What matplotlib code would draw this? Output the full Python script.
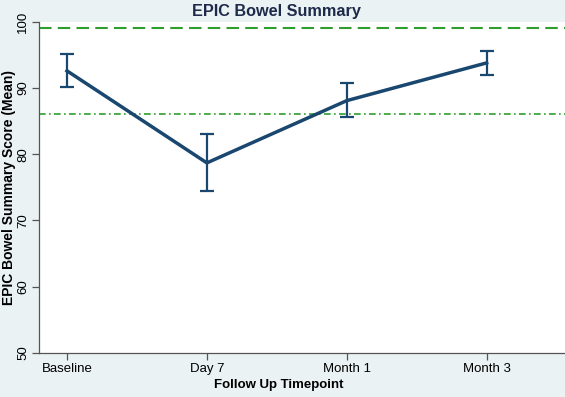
import matplotlib
matplotlib.use("Agg")
import matplotlib.pyplot as plt

timepoints = ["Baseline", "Day 7", "Month 1", "Month 3"]
means = [92.6, 78.7, 88.1, 93.8]
lower = [90.1, 74.4, 85.6, 92.0]
upper = [95.2, 83.0, 90.8, 95.6]
ref_dashed = 99.1
ref_dashdot = 86.1
yticks = [50, 60, 70, 80, 90, 100]

plt.rcParams['font.family'] = ['Liberation Sans', 'DejaVu Sans']

bg = '#eaf2f3'
navy = '#1a476f'
green = '#2e9e2e'

fig = plt.figure(figsize=(5.65, 3.97), dpi=100, facecolor=bg)
ax = fig.add_axes([0.069, 0.111, 0.931, 0.834])
ax.set_facecolor('white')

x = list(range(len(timepoints)))
ax.axhline(ref_dashed, color=green, lw=1.5, ls=(0, (6, 3)), zorder=1)
ax.axhline(ref_dashdot, color=green, lw=1.2, ls=(0, (4, 2, 1, 2)), zorder=1)

yerr = [[m - l for m, l in zip(means, lower)], [u - m for m, u in zip(means, upper)]]
ax.errorbar(x, means, yerr=yerr, color=navy, lw=2.5, elinewidth=1.6,
            capsize=5, capthick=1.6, zorder=3)

ax.set_xlim(-0.2, 3.56)
ax.set_ylim(50, 100)
ax.set_xticks(x)
ax.set_xticklabels(timepoints, fontsize=9.5)
ax.set_yticks(yticks)
ax.set_yticklabels([str(v) for v in yticks], fontsize=9.5, rotation=90, va='center')

for s in ['top', 'right']:
    ax.spines[s].set_visible(False)
for s in ['left', 'bottom']:
    ax.spines[s].set_color('#555555')
    ax.spines[s].set_linewidth(0.9)
ax.tick_params(axis='both', direction='out', length=5, color='#555555', width=0.9, pad=2)

ax.set_xlabel("Follow Up Timepoint", fontsize=9.5, fontweight='bold')
ax.xaxis.set_label_coords(0.455, -0.08)
ax.set_ylabel("EPIC Bowel Summary Score (Mean)", fontsize=10, fontweight='bold')
ax.yaxis.set_label_coords(-0.044, 0.5)
ax.set_title("EPIC Bowel Summary", fontsize=11.7, fontweight='bold', color='#1e2a4a',
             x=0.452, pad=4)

fig.savefig("out.png", dpi=100, facecolor=bg)
